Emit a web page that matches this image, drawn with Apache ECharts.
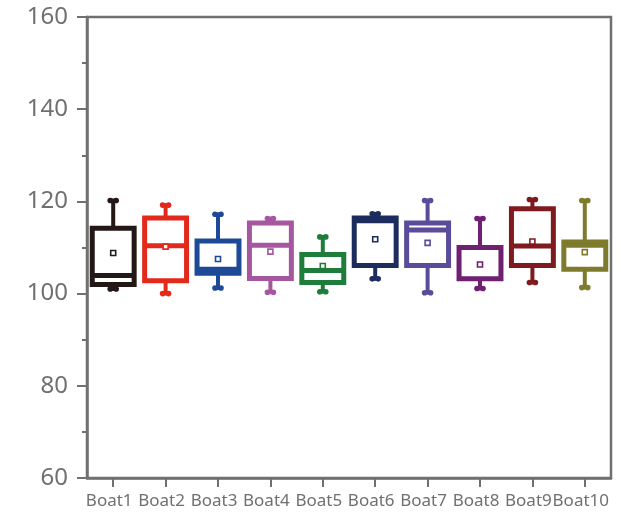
<!DOCTYPE html>
<html>
<head>
<meta charset="utf-8">
<script src="https://cdn.jsdelivr.net/npm/echarts@6/dist/echarts.min.js"></script>
<style>html,body{margin:0;padding:0;background:#fff;}#chart{width:621px;height:516px;}</style>
</head>
<body>
<div id="chart"></div>
<script>
var categories = ['Boat1','Boat2','Boat3','Boat4','Boat5','Boat6','Boat7','Boat8','Boat9','Boat10'];
var mins    = [101.0, 100.0, 101.2, 100.3, 100.4, 103.2, 100.2, 101.1, 102.4, 101.3];
var q1s     = [102.0, 102.8, 104.4, 103.3, 102.4, 106.1, 106.1, 103.2, 106.1, 105.3];
var medians = [103.9, 110.4, 105.3, 110.5, 105.0, 115.8, 113.8, 110.0, 110.3, 110.5];
var q3s     = [114.2, 116.4, 111.4, 115.3, 108.5, 116.4, 115.3, 110.0, 118.4, 111.2];
var maxs    = [120.2, 119.2, 117.2, 116.3, 112.3, 117.3, 120.2, 116.3, 120.4, 120.2];
var means   = [108.8, 110.2, 107.5, 109.1, 106.0, 111.8, 111.0, 106.3, 111.3, 109.0];
var yTicks  = [60, 80, 100, 120, 140, 160];
var colors  = ['#231815','#e2291c','#1c4a97','#a5579f','#1e7d3a','#1c2c5c','#5b4b9b','#702071','#7f1b1e','#7e7b2c'];

var data = categories.map(function (c, i) {
  return [i, mins[i], q1s[i], medians[i], q3s[i], maxs[i], means[i]];
});

function bone(x, y, color) {
  return [
    { type: 'line', shape: { x1: x - 3, y1: y, x2: x + 3, y2: y }, style: { stroke: color, lineWidth: 4 } },
    { type: 'circle', shape: { cx: x - 3, cy: y, r: 2.8 }, style: { fill: color } },
    { type: 'circle', shape: { cx: x + 3, cy: y, r: 2.8 }, style: { fill: color } }
  ];
}

function renderItem(params, api) {
  var i = api.value(0);
  var color = colors[i];
  var pMin = api.coord([i, api.value(1)]);
  var pQ1 = api.coord([i, api.value(2)]);
  var pMed = api.coord([i, api.value(3)]);
  var pQ3 = api.coord([i, api.value(4)]);
  var pMax = api.coord([i, api.value(5)]);
  var pMean = api.coord([i, api.value(6)]);
  var x = pMin[0];
  var w = api.size([1, 0])[0] * 0.8;
  var children = [];
  children.push({ type: 'line', shape: { x1: x, y1: pMax[1], x2: x, y2: pQ3[1] }, style: { stroke: color, lineWidth: 4 } });
  children.push({ type: 'line', shape: { x1: x, y1: pQ1[1], x2: x, y2: pMin[1] }, style: { stroke: color, lineWidth: 4 } });
  children = children.concat(bone(x, pMax[1], color), bone(x, pMin[1], color));
  children.push({ type: 'rect', shape: { x: x - w / 2, y: pQ3[1], width: w, height: pQ1[1] - pQ3[1] },
    style: { fill: '#fff', stroke: color, lineWidth: 5 } });
  children.push({ type: 'line', shape: { x1: x - w / 2, y1: pMed[1], x2: x + w / 2, y2: pMed[1] }, style: { stroke: color, lineWidth: 5 } });
  children.push({ type: 'rect', shape: { x: x - 2.5, y: pMean[1] - 2.5, width: 5, height: 5 },
    style: { fill: '#fff', stroke: color, lineWidth: 1.6 } });
  return { type: 'group', children: children };
}

var chart = echarts.init(document.getElementById('chart'), null, { renderer: 'canvas' });
chart.setOption({
  animation: false,
  backgroundColor: '#fff',
  grid: { left: 87, top: 17, width: 524, height: 461, show: true, borderColor: '#707070', borderWidth: 2.5, backgroundColor: 'transparent' },
  xAxis: {
    type: 'category',
    data: categories,
    boundaryGap: true,
    axisLine: { show: true, lineStyle: { color: '#707070', width: 2.5 } },
    axisTick: { show: true, alignWithLabel: true, length: 9, lineStyle: { color: '#707070', width: 2 } },
    axisLabel: { color: '#707070', fontSize: 17, fontFamily: 'Noto Sans', margin: 15, interval: 0, padding: [0, 8, 0, 0] },
    splitLine: { show: false }
  },
  yAxis: {
    type: 'value',
    min: yTicks[0],
    max: yTicks[yTicks.length - 1],
    interval: 20,
    axisLine: { show: true, lineStyle: { color: '#707070', width: 2.5 } },
    axisTick: { show: true, length: 10, lineStyle: { color: '#707070', width: 2 } },
    minorTick: { show: true, splitNumber: 2, length: 5, lineStyle: { color: '#707070', width: 2 } },
    axisLabel: { color: '#707070', fontSize: 24, fontFamily: 'Noto Sans', margin: 19 },
    splitLine: { show: false }
  },
  series: [{
    type: 'custom',
    renderItem: renderItem,
    encode: { x: 0, y: [1, 2, 3, 4, 5, 6] },
    data: data
  }]
});
</script>
</body>
</html>
